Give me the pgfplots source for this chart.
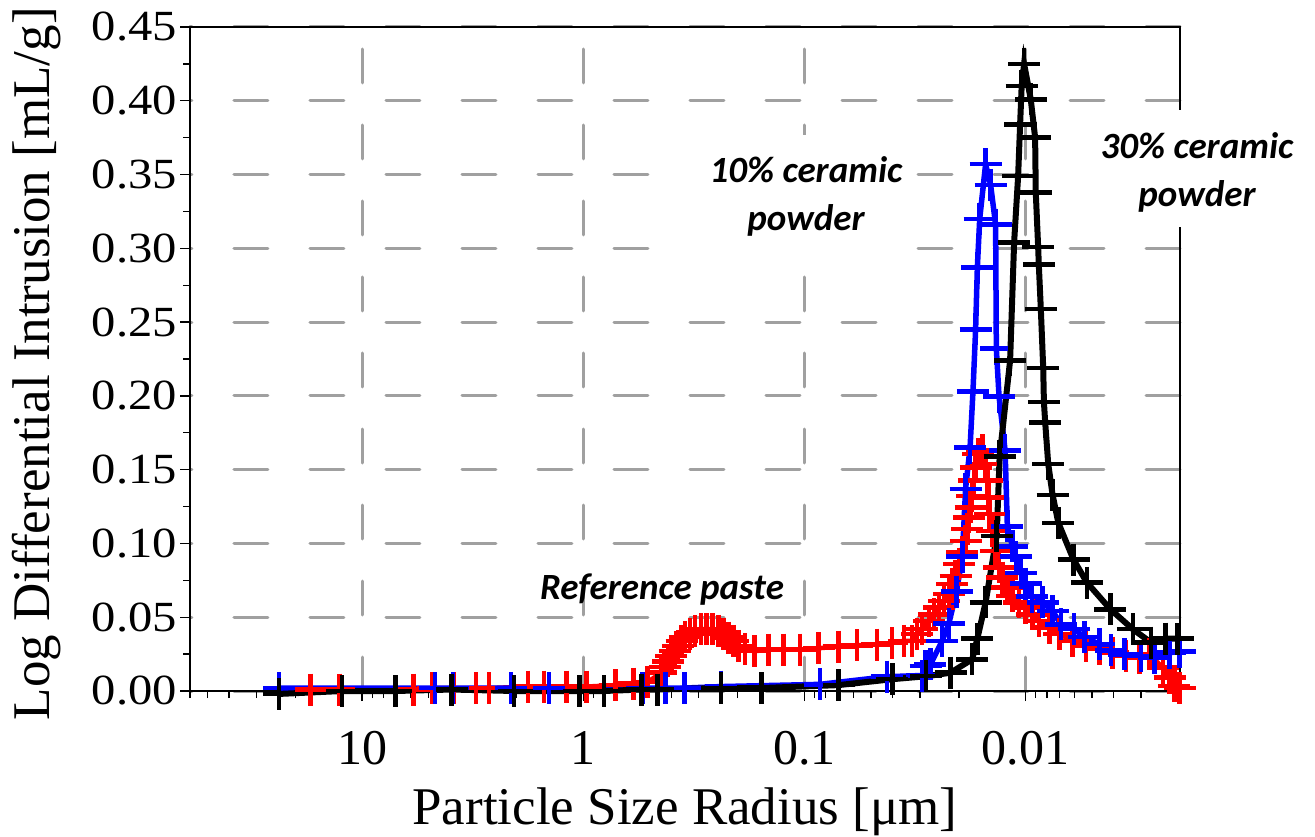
\documentclass[border=0pt]{standalone}
\usepackage{fontspec}
\setmainfont{Liberation Serif}
\newfontfamily\calibri{Carlito}
\newfontfamily\tickfont[FakeStretch=1.13]{Liberation Serif}
\usepackage{pgfplots}
\pgfplotsset{compat=1.18}
\definecolor{gridgray}{RGB}{160,160,160}
\begin{document}
\begin{tikzpicture}
\begin{axis}[name=ax, scale only axis, width=990pt, height=664pt,
  xmode=log, x dir=reverse, xmin=0.002, xmax=60, ymin=0, ymax=0.45,
  clip=false,
  xtick={10,1,0.1,0.01}, xticklabels={10,1,0.1,0.01},
  minor xtick={0.002,0.003,0.004,0.005,0.006,0.007,0.008,0.009,0.02,0.03,0.04,0.05,0.06,0.07,0.08,0.09,0.2,0.3,0.4,0.5,0.6,0.7,0.8,0.9,2,3,4,5,6,7,8,9,20,30,40,50,60},
  ytick={0,0.05,0.1,0.15,0.2,0.25,0.3,0.35,0.4,0.45},
  minor ytick={0.025,0.075,0.125,0.175,0.225,0.275,0.325,0.375,0.425},
  xtick pos=left, ytick pos=left,
  tick align=outside, major tick length=10pt, minor tick length=7pt,
  tick style={black, line width=1.3pt},
  axis line style={line width=1.3pt},
  grid=major,
  major grid style={gridgray, line width=3pt, dash pattern=on 34pt off 42pt, line cap=round},
  /pgf/number format/assume math mode=true,
  yticklabel style={font=\tickfont\fontsize{43}{43}\selectfont, anchor=east, inner sep=0pt, xshift=-3pt,
    /pgf/number format/fixed, /pgf/number format/fixed zerofill, /pgf/number format/precision=2},
  xticklabel style={font=\fontsize{50}{50}\selectfont, anchor=north, inner sep=0pt, yshift=-30pt},
  xlabel={Particle Size Radius [μm]},
  ylabel={Log Differential Intrusion [mL/g]},
  label style={font=\fontsize{53}{53}\selectfont},
  xlabel style={at={(axis description cs:0.5,-0.2018)}, anchor=base},
  ylabel style={at={(axis description cs:-0.1424,0.493)}, anchor=base},
]
% Reference paste
\addplot[red, line width=4.5pt, mark=+, mark size=16pt, mark options={line width=4.5pt, solid}] coordinates {
(17.1,0.001) (12.65,0.001) (5.84,0.001) (4.79,0.002) (3.85,0.002) (3.06,0.002) (2.67,0.002)
(1.78,0.003) (1.50,0.003) (1.19,0.003) (0.968,0.003) (0.716,0.004) (0.593,0.005) (0.513,0.006)
(0.443,0.0124) (0.428,0.0163) (0.413,0.020) (0.399,0.0237) (0.386,0.027) (0.372,0.0305)
(0.359,0.034) (0.347,0.0366) (0.3296,0.0389) (0.3127,0.0407) (0.2938,0.0419) (0.2768,0.0420)
(0.2608,0.0419) (0.2449,0.0407) (0.2325,0.0389) (0.2207,0.0362) (0.2095,0.034) (0.1988,0.0305)
(0.1856,0.0283) (0.1677,0.027) (0.1453,0.028) (0.1243,0.028) (0.1045,0.028) (0.0862,0.029)
(0.070,0.030) (0.0578,0.031) (0.0469,0.0315) (0.0401,0.0325) (0.0355,0.034) (0.0326,0.034)
(0.0309,0.0385) (0.0293,0.042) (0.02734,0.0475) (0.02594,0.052) (0.02462,0.0565) (0.02337,0.061)
(0.02218,0.0656) (0.02143,0.0724) (0.0207,0.078) (0.0200,0.086) (0.0193,0.094) (0.01865,0.1018)
(0.01832,0.1097) (0.0180,0.1176) (0.0177,0.1244) (0.0174,0.1323) (0.01709,0.1425) (0.0168,0.1515)
(0.01634,0.1606) (0.01567,0.163) (0.01514,0.154) (0.01487,0.1425) (0.01472,0.131) (0.01452,0.12)
(0.01411,0.1085) (0.01364,0.095) (0.01316,0.0837) (0.01271,0.0769) (0.01207,0.070) (0.01145,0.0644)
(0.01068,0.060) (0.00997,0.0565) (0.00930,0.052) (0.00867,0.0475) (0.0078,0.043) (0.00703,0.0385)
(0.00612,0.034) (0.00533,0.0305) (0.00463,0.0283) (0.00403,0.026) (0.00351,0.0237) (0.00305,0.0226)
(0.00275,0.0249) (0.00239,0.0158) (0.00223,0.009) (0.00212,0.0034) (0.00201,0.0022)
};
% 10% ceramic powder
\addplot[blue, line width=5.5pt, mark=+, mark size=16pt, mark options={line width=4.5pt, solid}] coordinates {
(23.7,0.002) (4.67,0.002) (3.89,0.002) (2.12,0.002) (1.43,0.002) (0.54,0.002) (0.425,0.002)
(0.348,0.002) (0.238,0.003) (0.0851,0.0045) (0.0423,0.0097) (0.0293,0.0105) (0.0283,0.017)
(0.0269,0.018) (0.0238,0.034) (0.0222,0.0457) (0.0205,0.0674) (0.0193,0.091) (0.01865,0.137)
(0.0178,0.165) (0.01727,0.203) (0.0168,0.245) (0.0165,0.287) (0.0161,0.320) (0.01514,0.357)
(0.01437,0.343) (0.01364,0.316) (0.01354,0.232) (0.01316,0.1995) (0.01236,0.163) (0.01207,0.1115)
(0.01145,0.098) (0.01106,0.091) (0.0105,0.080) (0.00997,0.0728) (0.00936,0.064) (0.00837,0.060)
(0.00754,0.0543) (0.00692,0.0452) (0.00602,0.0419) (0.00542,0.0366) (0.00463,0.0317) (0.0041,0.0276)
(0.00357,0.0249) (0.003,0.0237) (0.00261,0.0226) (0.00223,0.026) (0.00201,0.0267)
};
% 30% ceramic powder
\addplot[black, line width=6pt, mark=+, mark size=16pt, mark options={line width=4.5pt, solid}] coordinates {
(23.8,-0.002) (12.3,0.000) (7.05,0.000) (3.94,0.001) (2.05,0.000) (1.04,0.000) (0.805,0.000)
(0.546,0.001) (0.461,0.001) (0.238,0.002) (0.156,0.002) (0.070,0.004) (0.040,0.008) (0.0281,0.010)
(0.0218,0.0124) (0.0174,0.0215) (0.0165,0.0355) (0.01514,0.060) (0.01349,0.105) (0.01308,0.159)
(0.01173,0.224) (0.01125,0.304) (0.01079,0.349) (0.01057,0.384) (0.0104,0.410) (0.01014,0.425)
(0.00946,0.401) (0.00904,0.375) (0.00898,0.338) (0.00876,0.301) (0.0087,0.289) (0.00852,0.259)
(0.00831,0.219) (0.00825,0.196) (0.00814,0.182) (0.00789,0.154) (0.00754,0.133) (0.0071,0.114)
(0.00606,0.089) (0.00527,0.0735) (0.00413,0.0554) (0.00327,0.0419) (0.0027,0.0328) (0.00233,0.0355)
(0.00205,0.0355)
};
\end{axis}
% white boxes behind annotations
\fill[white] ([shift={(463pt,441pt)}]ax.south west) rectangle ([shift={(718pt,556pt)}]ax.south west);
\fill[white] ([shift={(870pt,464pt)}]ax.south west) rectangle ([shift={(1125pt,581pt)}]ax.south west);
\node[align=center, font=\calibri\bfseries\itshape\fontsize{37}{48}\selectfont]
  at ([shift={(616pt,495pt)}]ax.south west) {10\% ceramic\\powder};
\node[align=center, font=\calibri\bfseries\itshape\fontsize{37}{48}\selectfont]
  at ([shift={(1007pt,519pt)}]ax.south west) {30\% ceramic\\powder};
\node[font=\calibri\bfseries\itshape\fontsize{37}{48}\selectfont]
  at ([shift={(472pt,101pt)}]ax.south west) {Reference paste};
\pgfresetboundingbox
\path ([shift={(-190pt,-145pt)}]ax.south west) rectangle ([shift={(1125pt,691pt)}]ax.south west);
\end{tikzpicture}
\end{document}
